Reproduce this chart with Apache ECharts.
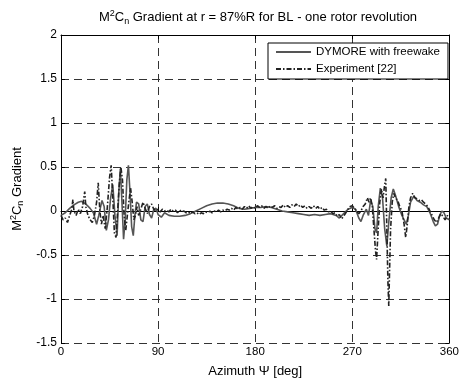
<!DOCTYPE html>
<html>
<head>
<meta charset="utf-8">
<script src="https://cdn.jsdelivr.net/npm/echarts@6/dist/echarts.min.js"></script>
<style>html,body{margin:0;padding:0;background:#fff;}#c{width:462px;height:383px;}</style>
</head>
<body>
<div id="c"></div>
<script>
// Simulation: DYMORE with freewake
var simAz = [0,4,8,12,16,19,23,27,30,33,35,38,40,42,44,46,48,50,52,53.5,55,56.5,58,59.5,61,62.5,64,65.5,67,68.5,70,72,74,76,78,80,82,84,86,88,90,93,96,100,105,110,115,120,125,130,135,140,145,150,155,160,165,170,175,180,185,190,195,200,205,210,215,220,225,230,235,240,245,250,255,258,262,266,270,273,276,278,280,283,285,287,289,291,292.5,294,296,298,300,302,304,306,308,310,313,316,318,320,322,324,327,330,333,336,339,342,345,347,349,351,353,355,357,360];
var simVal = [-0.05,-0.02,0.03,0.07,0.1,0.11,0.08,0.03,-0.02,-0.15,-0.05,0.12,0.05,-0.22,-0.1,0.15,0.3,-0.05,-0.28,0.2,0.48,0.1,-0.32,-0.1,0.35,0.52,0.2,-0.18,-0.28,-0.05,0.1,0.08,-0.1,-0.12,0.05,0.08,-0.04,-0.08,0.02,0.03,-0.04,-0.07,-0.02,-0.05,-0.06,-0.06,-0.05,-0.03,0.0,0.03,0.06,0.08,0.09,0.09,0.08,0.06,0.03,0.02,0.03,0.04,0.04,0.05,0.04,0.02,0.0,-0.01,-0.02,-0.03,-0.04,-0.05,-0.04,-0.05,-0.04,-0.03,-0.05,-0.08,-0.03,0.02,0.04,0.02,-0.08,-0.12,-0.05,0.02,-0.05,0.12,0.05,-0.2,-0.25,0.05,0.26,0.15,-0.2,-0.4,-0.1,0.15,0.25,0.18,0.05,-0.05,-0.1,-0.15,-0.05,0.1,0.17,0.12,0.1,0.07,0.05,-0.02,-0.12,-0.17,-0.15,-0.05,0.0,-0.02,-0.08,-0.1];

// Experiment [22]
var expAz = [0,2,4,6,8,10,11,12,14,16,18,20,22,23,25,27,29,31,33,34.5,36,37.5,39,41,43,45,46.5,48,49.5,51,52.5,54,55.5,57,58.5,60,61.5,63,64.5,66,67.5,69,70.5,72,74,76,78,80,82,84,86,88,
  90,92,94,96,98,100,102,104,106,108,110,112,114,116,118,120,122,124,126,128,130,132,134,136,138,140,142,144,146,148,150,152,154,156,158,160,162,164,166,168,170,172,174,176,178,
  180,182,184,186,188,190,192,194,196,198,200,202,204,206,208,210,212,214,216,218,220,222,224,226,228,230,232,234,236,238,240,242,244,246,248,250,252,254,256,258,260,262,264,266,268,270,
  272,274,276,278,280,282,284,285.5,287,288.5,290,291.5,292.5,294,295.5,297,298.5,300,301,302,303,303.8,304.5,305.5,307,308.5,310,312,314,316,318,319.5,321,322.5,324,326,328,330,332,334,336,338,340,342,344,346,348,350,352,354,356,358,360];
var expVal = [-0.05,-0.1,-0.08,-0.13,-0.05,0.02,0.13,0.0,-0.05,0.02,-0.03,0.05,0.22,0.05,-0.05,-0.1,-0.13,-0.05,0.1,0.32,0.0,-0.15,-0.05,-0.2,0.05,0.38,0.52,0.15,-0.25,-0.3,0.0,0.3,0.5,0.35,-0.05,-0.22,-0.05,0.12,0.26,0.1,-0.1,-0.05,0.05,-0.05,0.02,0.1,0.03,-0.03,0.05,0.08,0.02,0.0,
  0.02,-0.01,0.02,0.0,0.01,-0.01,0.02,0.0,0.01,-0.02,0.01,-0.01,0.0,-0.02,-0.01,-0.03,-0.01,-0.03,-0.02,-0.04,-0.02,-0.03,-0.01,-0.02,0.0,-0.02,0.0,-0.01,0.01,-0.01,0.01,0.0,0.02,0.01,0.03,0.01,0.04,0.02,0.04,0.02,0.05,0.03,0.06,0.03,0.05,
  0.03,0.06,0.04,0.06,0.03,0.05,0.03,0.06,0.04,0.06,0.03,0.05,0.04,0.07,0.04,0.06,0.04,0.07,0.05,0.08,0.05,0.07,0.04,0.06,0.03,0.05,0.03,0.06,0.03,0.05,0.02,0.04,0.01,0.02,-0.01,0.0,-0.03,-0.02,-0.06,-0.04,-0.09,-0.06,-0.02,0.02,0.05,0.06,
  0.03,0.0,-0.03,0.0,0.05,0.08,0.15,0.1,0.15,0.05,-0.2,-0.45,-0.55,-0.2,0.1,0.25,0.15,0.3,0.37,-0.2,-0.8,-1.08,-0.7,-0.2,0.1,0.2,0.15,0.12,0.05,0.0,-0.15,-0.3,-0.15,0.05,0.15,0.2,0.15,0.14,0.12,0.13,0.1,0.08,0.05,0.0,-0.05,-0.1,-0.13,-0.08,-0.03,-0.06,-0.1,-0.05,-0.08];

var xTicks = [0, 90, 180, 270, 360];
var yTicks = [-1.5, -1, -0.5, 0, 0.5, 1, 1.5, 2];

function pairs(a, b) { return a.map(function (v, i) { return [v, b[i]]; }); }

var font = 'Liberation Sans, Arial, sans-serif';
var chart = echarts.init(document.getElementById('c'));
var tickStyle = { inside: true, length: 4, lineStyle: { color: '#000', width: 1 } };
var richSS = {
  sup: { fontSize: 9, padding: [0, 0, 7, 0], fontFamily: font },
  sub: { fontSize: 9, padding: [8, 0, 0, 0], fontFamily: font }
};
chart.setOption({
  animation: false,
  backgroundColor: '#fff',
  textStyle: { fontFamily: font },
  title: {
    text: 'M{sup|2}C{sub|n} Gradient at r = 87%R for BL - one rotor revolution',
    left: 253, top: 4, textAlign: 'center',
    textStyle: { fontSize: 13, fontWeight: 'normal', color: '#000', fontFamily: font, rich: richSS }
  },
  grid: { left: 61, right: 11, top: 35, bottom: 40 },
  legend: {
    left: 268, top: 43, orient: 'vertical',
    backgroundColor: '#fff', borderColor: '#000', borderWidth: 1, borderRadius: 0,
    padding: [3, 8, 4, 7], itemWidth: 35, itemHeight: 12, itemGap: 5,
    itemStyle: { opacity: 0 },
    textStyle: { fontSize: 11.5, color: '#000', fontFamily: font },
    data: ['DYMORE with freewake', 'Experiment [22]']
  },
  xAxis: [{
    type: 'value', min: xTicks[0], max: xTicks[xTicks.length - 1], interval: 90,
    name: 'Azimuth \u03A8 [deg]', nameLocation: 'middle', nameGap: 22,
    nameTextStyle: { fontSize: 13, color: '#000', fontFamily: font },
    axisLine: { show: true, lineStyle: { color: '#000', width: 1 } },
    axisTick: tickStyle,
    axisLabel: { fontSize: 11.5, color: '#000', margin: 3, fontFamily: font },
    splitLine: { show: true, lineStyle: { color: '#333', type: [8, 5], width: 1 } }
  }, {
    type: 'value', position: 'top', min: 0, max: 360, interval: 90,
    axisLine: { show: true, onZero: false, lineStyle: { color: '#000', width: 1 } },
    axisTick: tickStyle, axisLabel: { show: false }, splitLine: { show: false }
  }],
  yAxis: [{
    type: 'value', min: yTicks[0], max: yTicks[yTicks.length - 1], interval: 0.5,
    name: 'M{sup|2}C{sub|n} Gradient', nameLocation: 'middle', nameGap: 33, nameRotate: 90,
    nameTextStyle: { fontSize: 13, color: '#000', fontFamily: font, rich: richSS },
    axisLine: { show: true, onZero: false, lineStyle: { color: '#000', width: 1 } },
    axisTick: tickStyle,
    axisLabel: { fontSize: 12, color: '#000', margin: 4, fontFamily: font },
    splitLine: { show: true, lineStyle: { color: '#333', type: [8, 5], width: 1 } }
  }, {
    type: 'value', position: 'right', min: -1.5, max: 2, interval: 0.5,
    axisLine: { show: true, onZero: false, lineStyle: { color: '#000', width: 1 } },
    axisTick: tickStyle, axisLabel: { show: false }, splitLine: { show: false }
  }],
  series: [{
    name: 'DYMORE with freewake', type: 'line', xAxisIndex: 0, yAxisIndex: 0,
    data: pairs(simAz, simVal), symbol: 'none', showSymbol: false,
    lineStyle: { color: '#555', width: 1.6 }, itemStyle: { color: '#555' }, z: 3
  }, {
    name: 'Experiment [22]', type: 'line', xAxisIndex: 0, yAxisIndex: 0,
    data: pairs(expAz, expVal), symbol: 'none', showSymbol: false,
    lineStyle: { color: '#222', width: 1.6, type: [5, 2, 1.5, 2] }, itemStyle: { color: '#222' }, z: 4
  }]
});
</script>
</body>
</html>
